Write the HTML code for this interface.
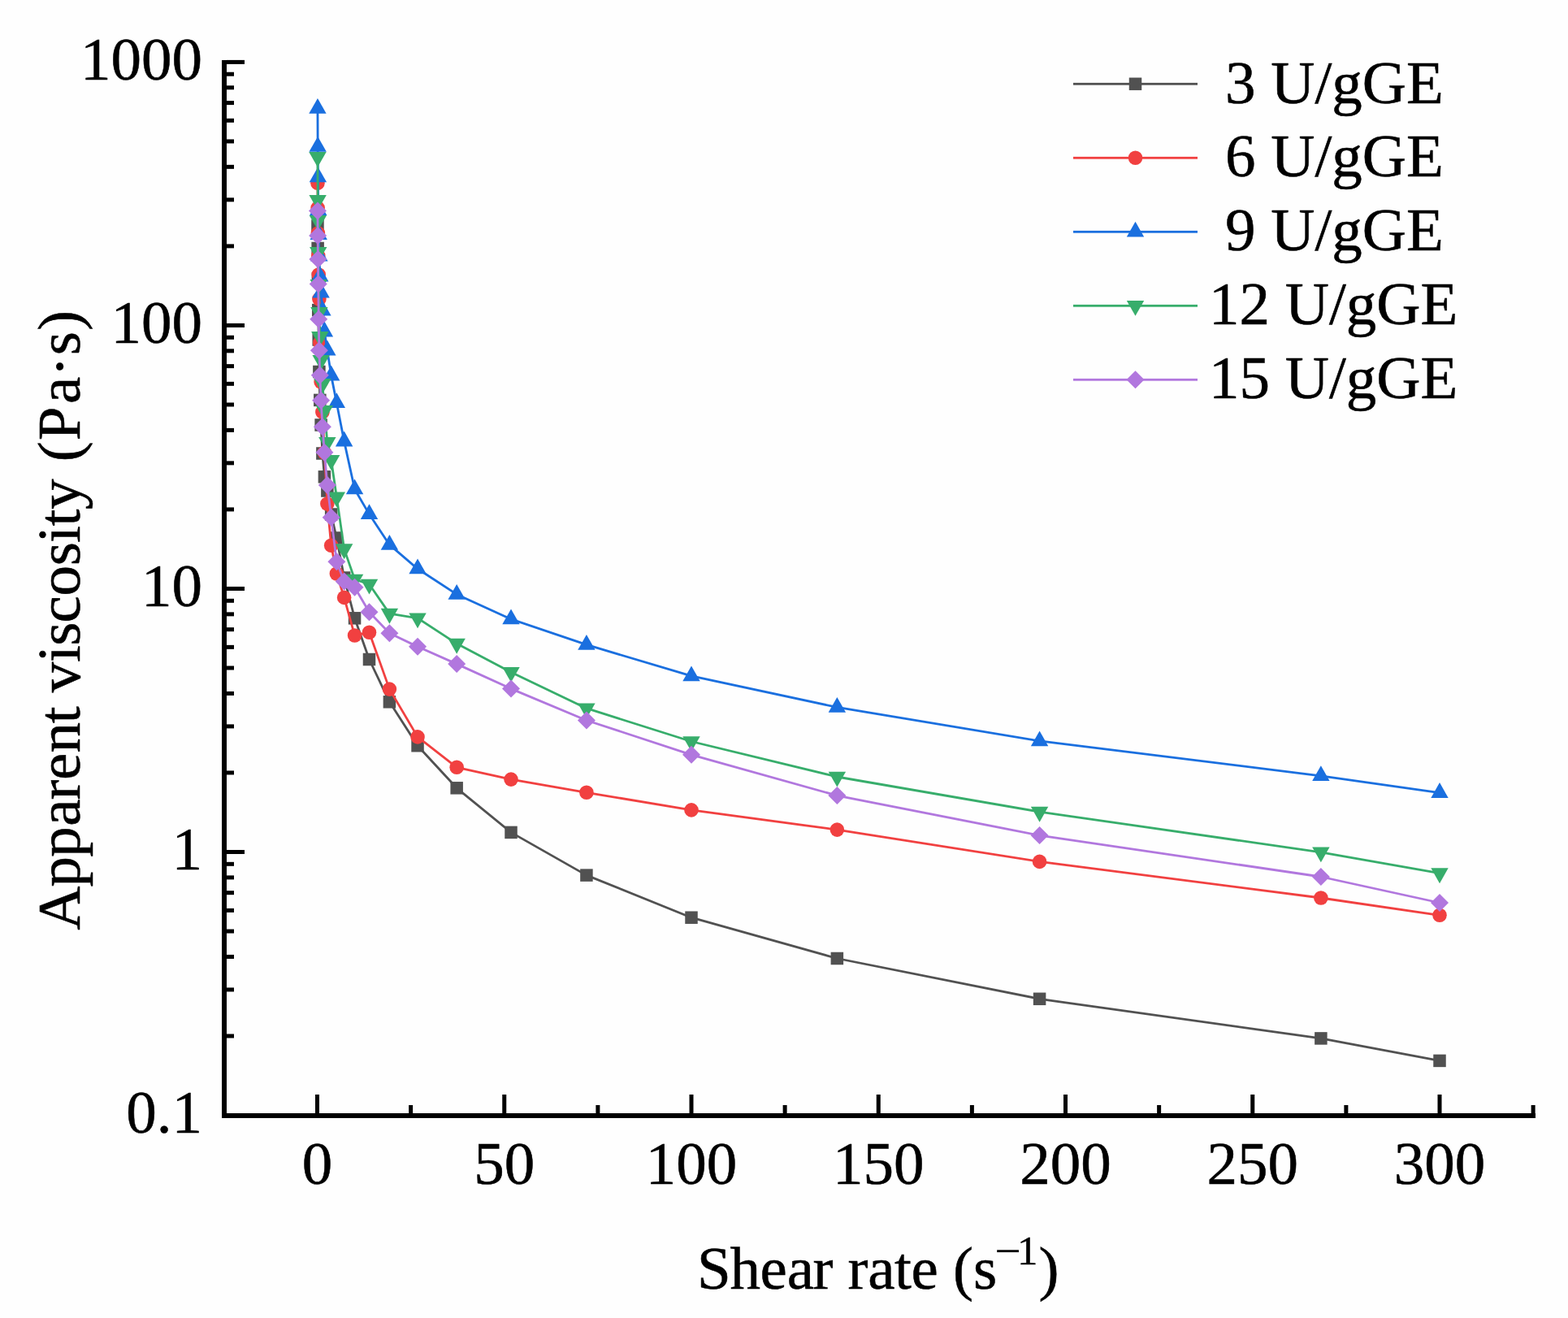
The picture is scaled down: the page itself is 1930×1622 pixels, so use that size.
<!DOCTYPE html>
<html><head><meta charset="utf-8"><title>Apparent viscosity vs shear rate</title>
<style>
html,body{margin:0;padding:0;background:#fff;}
svg{display:block;}
text{font-family:"Liberation Serif","Times New Roman",serif;fill:#000;stroke:#000;stroke-width:0.55px;}
</style></head><body>
<svg width="1930" height="1622" viewBox="0 0 1930 1622">
<rect width="1930" height="1622" fill="#fefefe"/>

<path d="M390.96 278.00L391.14 305.50L391.39 343.00L391.74 381.60L392.22 418.00L392.89 457.50L393.81 492.40L395.11 523.00L396.90 558.00L399.39 586.80L402.85 604.00L407.67 633.00L414.35 662.00L423.64 711.00L436.55 760.80L454.49 811.50L479.41 863.80L514.04 917.70L562.16 969.80L629.01 1024.40L721.92 1077.10L851.00 1129.20L1030.36 1179.50L1279.59 1229.30L1625.88 1277.90L1772.00 1305.40" fill="none" stroke="#515151" stroke-width="2.8" stroke-linejoin="round"/>
<g><rect x="383.21" y="270.25" width="15.5" height="15.5" fill="#515151"/><rect x="383.39" y="297.75" width="15.5" height="15.5" fill="#515151"/><rect x="383.64" y="335.25" width="15.5" height="15.5" fill="#515151"/><rect x="383.99" y="373.85" width="15.5" height="15.5" fill="#515151"/><rect x="384.47" y="410.25" width="15.5" height="15.5" fill="#515151"/><rect x="385.14" y="449.75" width="15.5" height="15.5" fill="#515151"/><rect x="386.06" y="484.65" width="15.5" height="15.5" fill="#515151"/><rect x="387.36" y="515.25" width="15.5" height="15.5" fill="#515151"/><rect x="389.15" y="550.25" width="15.5" height="15.5" fill="#515151"/><rect x="391.64" y="579.05" width="15.5" height="15.5" fill="#515151"/><rect x="395.10" y="596.25" width="15.5" height="15.5" fill="#515151"/><rect x="399.92" y="625.25" width="15.5" height="15.5" fill="#515151"/><rect x="406.60" y="654.25" width="15.5" height="15.5" fill="#515151"/><rect x="415.89" y="703.25" width="15.5" height="15.5" fill="#515151"/><rect x="428.80" y="753.05" width="15.5" height="15.5" fill="#515151"/><rect x="446.74" y="803.75" width="15.5" height="15.5" fill="#515151"/><rect x="471.66" y="856.05" width="15.5" height="15.5" fill="#515151"/><rect x="506.29" y="909.95" width="15.5" height="15.5" fill="#515151"/><rect x="554.41" y="962.05" width="15.5" height="15.5" fill="#515151"/><rect x="621.26" y="1016.65" width="15.5" height="15.5" fill="#515151"/><rect x="714.17" y="1069.35" width="15.5" height="15.5" fill="#515151"/><rect x="843.25" y="1121.45" width="15.5" height="15.5" fill="#515151"/><rect x="1022.61" y="1171.75" width="15.5" height="15.5" fill="#515151"/><rect x="1271.84" y="1221.55" width="15.5" height="15.5" fill="#515151"/><rect x="1618.13" y="1270.15" width="15.5" height="15.5" fill="#515151"/><rect x="1764.25" y="1297.65" width="15.5" height="15.5" fill="#515151"/></g>
<path d="M390.96 225.20L391.14 256.00L391.39 287.00L391.74 315.00L392.22 338.00L392.89 368.00L393.81 422.00L395.11 470.00L396.90 507.00L399.39 557.00L402.85 620.00L407.67 671.30L414.35 706.00L423.64 735.40L436.55 782.00L454.49 778.20L479.41 848.10L514.04 906.90L562.16 944.30L629.01 959.10L721.92 975.30L851.00 996.90L1030.36 1021.10L1279.59 1060.40L1625.88 1105.00L1772.00 1126.30" fill="none" stroke="#F14040" stroke-width="2.8" stroke-linejoin="round"/>
<g><circle cx="390.96" cy="225.20" r="8.8" fill="#F14040"/><circle cx="391.14" cy="256.00" r="8.8" fill="#F14040"/><circle cx="391.39" cy="287.00" r="8.8" fill="#F14040"/><circle cx="391.74" cy="315.00" r="8.8" fill="#F14040"/><circle cx="392.22" cy="338.00" r="8.8" fill="#F14040"/><circle cx="392.89" cy="368.00" r="8.8" fill="#F14040"/><circle cx="393.81" cy="422.00" r="8.8" fill="#F14040"/><circle cx="395.11" cy="470.00" r="8.8" fill="#F14040"/><circle cx="396.90" cy="507.00" r="8.8" fill="#F14040"/><circle cx="399.39" cy="557.00" r="8.8" fill="#F14040"/><circle cx="402.85" cy="620.00" r="8.8" fill="#F14040"/><circle cx="407.67" cy="671.30" r="8.8" fill="#F14040"/><circle cx="414.35" cy="706.00" r="8.8" fill="#F14040"/><circle cx="423.64" cy="735.40" r="8.8" fill="#F14040"/><circle cx="436.55" cy="782.00" r="8.8" fill="#F14040"/><circle cx="454.49" cy="778.20" r="8.8" fill="#F14040"/><circle cx="479.41" cy="848.10" r="8.8" fill="#F14040"/><circle cx="514.04" cy="906.90" r="8.8" fill="#F14040"/><circle cx="562.16" cy="944.30" r="8.8" fill="#F14040"/><circle cx="629.01" cy="959.10" r="8.8" fill="#F14040"/><circle cx="721.92" cy="975.30" r="8.8" fill="#F14040"/><circle cx="851.00" cy="996.90" r="8.8" fill="#F14040"/><circle cx="1030.36" cy="1021.10" r="8.8" fill="#F14040"/><circle cx="1279.59" cy="1060.40" r="8.8" fill="#F14040"/><circle cx="1625.88" cy="1105.00" r="8.8" fill="#F14040"/><circle cx="1772.00" cy="1126.30" r="8.8" fill="#F14040"/></g>
<path d="M390.96 133.53L391.14 180.53L391.39 217.93L391.74 258.73L392.22 288.73L392.89 315.13L393.81 340.13L395.11 360.13L396.90 382.13L399.39 408.13L402.85 431.13L407.67 462.13L414.35 495.83L423.64 543.13L436.55 601.93L454.49 632.83L479.41 670.43L514.04 700.03L562.16 731.43L629.01 761.93L721.92 793.43L851.00 831.93L1030.36 870.43L1279.59 911.93L1625.88 954.83L1772.00 975.63" fill="none" stroke="#1A6FDF" stroke-width="2.8" stroke-linejoin="round"/>
<g><path d="M390.96 121.00L401.66 139.80L380.26 139.80Z" fill="#1A6FDF"/><path d="M391.14 168.00L401.84 186.80L380.44 186.80Z" fill="#1A6FDF"/><path d="M391.39 205.40L402.09 224.20L380.69 224.20Z" fill="#1A6FDF"/><path d="M391.74 246.20L402.44 265.00L381.04 265.00Z" fill="#1A6FDF"/><path d="M392.22 276.20L402.92 295.00L381.52 295.00Z" fill="#1A6FDF"/><path d="M392.89 302.60L403.59 321.40L382.19 321.40Z" fill="#1A6FDF"/><path d="M393.81 327.60L404.51 346.40L383.11 346.40Z" fill="#1A6FDF"/><path d="M395.11 347.60L405.81 366.40L384.41 366.40Z" fill="#1A6FDF"/><path d="M396.90 369.60L407.60 388.40L386.20 388.40Z" fill="#1A6FDF"/><path d="M399.39 395.60L410.09 414.40L388.69 414.40Z" fill="#1A6FDF"/><path d="M402.85 418.60L413.55 437.40L392.15 437.40Z" fill="#1A6FDF"/><path d="M407.67 449.60L418.37 468.40L396.97 468.40Z" fill="#1A6FDF"/><path d="M414.35 483.30L425.05 502.10L403.65 502.10Z" fill="#1A6FDF"/><path d="M423.64 530.60L434.34 549.40L412.94 549.40Z" fill="#1A6FDF"/><path d="M436.55 589.40L447.25 608.20L425.85 608.20Z" fill="#1A6FDF"/><path d="M454.49 620.30L465.19 639.10L443.79 639.10Z" fill="#1A6FDF"/><path d="M479.41 657.90L490.11 676.70L468.71 676.70Z" fill="#1A6FDF"/><path d="M514.04 687.50L524.74 706.30L503.34 706.30Z" fill="#1A6FDF"/><path d="M562.16 718.90L572.86 737.70L551.46 737.70Z" fill="#1A6FDF"/><path d="M629.01 749.40L639.71 768.20L618.31 768.20Z" fill="#1A6FDF"/><path d="M721.92 780.90L732.62 799.70L711.22 799.70Z" fill="#1A6FDF"/><path d="M851.00 819.40L861.70 838.20L840.30 838.20Z" fill="#1A6FDF"/><path d="M1030.36 857.90L1041.06 876.70L1019.66 876.70Z" fill="#1A6FDF"/><path d="M1279.59 899.40L1290.29 918.20L1268.89 918.20Z" fill="#1A6FDF"/><path d="M1625.88 942.30L1636.58 961.10L1615.18 961.10Z" fill="#1A6FDF"/><path d="M1772.00 963.10L1782.70 981.90L1761.30 981.90Z" fill="#1A6FDF"/></g>
<path d="M390.96 193.20L391.14 246.20L391.39 271.20L391.74 310.20L392.22 350.20L392.89 384.20L393.81 414.20L395.11 443.20L396.90 472.20L399.39 505.20L402.85 544.20L407.67 566.20L414.35 611.80L423.64 675.60L436.55 713.00L454.49 719.00L479.41 755.10L514.04 760.70L562.16 792.10L629.01 827.20L721.92 871.70L851.00 912.50L1030.36 956.00L1279.59 999.10L1625.88 1048.80L1772.00 1074.60" fill="none" stroke="#37AD6B" stroke-width="2.8" stroke-linejoin="round"/>
<g><path d="M390.96 205.73L401.66 186.93L380.26 186.93Z" fill="#37AD6B"/><path d="M391.14 258.73L401.84 239.93L380.44 239.93Z" fill="#37AD6B"/><path d="M391.39 283.73L402.09 264.93L380.69 264.93Z" fill="#37AD6B"/><path d="M391.74 322.73L402.44 303.93L381.04 303.93Z" fill="#37AD6B"/><path d="M392.22 362.73L402.92 343.93L381.52 343.93Z" fill="#37AD6B"/><path d="M392.89 396.73L403.59 377.93L382.19 377.93Z" fill="#37AD6B"/><path d="M393.81 426.73L404.51 407.93L383.11 407.93Z" fill="#37AD6B"/><path d="M395.11 455.73L405.81 436.93L384.41 436.93Z" fill="#37AD6B"/><path d="M396.90 484.73L407.60 465.93L386.20 465.93Z" fill="#37AD6B"/><path d="M399.39 517.73L410.09 498.93L388.69 498.93Z" fill="#37AD6B"/><path d="M402.85 556.73L413.55 537.93L392.15 537.93Z" fill="#37AD6B"/><path d="M407.67 578.73L418.37 559.93L396.97 559.93Z" fill="#37AD6B"/><path d="M414.35 624.33L425.05 605.53L403.65 605.53Z" fill="#37AD6B"/><path d="M423.64 688.13L434.34 669.33L412.94 669.33Z" fill="#37AD6B"/><path d="M436.55 725.53L447.25 706.73L425.85 706.73Z" fill="#37AD6B"/><path d="M454.49 731.53L465.19 712.73L443.79 712.73Z" fill="#37AD6B"/><path d="M479.41 767.63L490.11 748.83L468.71 748.83Z" fill="#37AD6B"/><path d="M514.04 773.23L524.74 754.43L503.34 754.43Z" fill="#37AD6B"/><path d="M562.16 804.63L572.86 785.83L551.46 785.83Z" fill="#37AD6B"/><path d="M629.01 839.73L639.71 820.93L618.31 820.93Z" fill="#37AD6B"/><path d="M721.92 884.23L732.62 865.43L711.22 865.43Z" fill="#37AD6B"/><path d="M851.00 925.03L861.70 906.23L840.30 906.23Z" fill="#37AD6B"/><path d="M1030.36 968.53L1041.06 949.73L1019.66 949.73Z" fill="#37AD6B"/><path d="M1279.59 1011.63L1290.29 992.83L1268.89 992.83Z" fill="#37AD6B"/><path d="M1625.88 1061.33L1636.58 1042.53L1615.18 1042.53Z" fill="#37AD6B"/><path d="M1772.00 1087.13L1782.70 1068.33L1761.30 1068.33Z" fill="#37AD6B"/></g>
<path d="M390.96 259.40L391.14 290.00L391.39 319.00L391.74 349.40L392.22 392.70L392.89 431.30L393.81 461.70L395.11 492.80L396.90 525.20L399.39 556.70L402.85 597.00L407.67 636.80L414.35 691.30L423.64 715.40L436.55 722.70L454.49 753.30L479.41 779.20L514.04 795.80L562.16 817.10L629.01 847.60L721.92 886.50L851.00 928.80L1030.36 979.10L1279.59 1028.10L1625.88 1079.00L1772.00 1111.00" fill="none" stroke="#B177DE" stroke-width="2.8" stroke-linejoin="round"/>
<g><path d="M390.96 248.40L401.96 259.40L390.96 270.40L379.96 259.40Z" fill="#B177DE"/><path d="M391.14 279.00L402.14 290.00L391.14 301.00L380.14 290.00Z" fill="#B177DE"/><path d="M391.39 308.00L402.39 319.00L391.39 330.00L380.39 319.00Z" fill="#B177DE"/><path d="M391.74 338.40L402.74 349.40L391.74 360.40L380.74 349.40Z" fill="#B177DE"/><path d="M392.22 381.70L403.22 392.70L392.22 403.70L381.22 392.70Z" fill="#B177DE"/><path d="M392.89 420.30L403.89 431.30L392.89 442.30L381.89 431.30Z" fill="#B177DE"/><path d="M393.81 450.70L404.81 461.70L393.81 472.70L382.81 461.70Z" fill="#B177DE"/><path d="M395.11 481.80L406.11 492.80L395.11 503.80L384.11 492.80Z" fill="#B177DE"/><path d="M396.90 514.20L407.90 525.20L396.90 536.20L385.90 525.20Z" fill="#B177DE"/><path d="M399.39 545.70L410.39 556.70L399.39 567.70L388.39 556.70Z" fill="#B177DE"/><path d="M402.85 586.00L413.85 597.00L402.85 608.00L391.85 597.00Z" fill="#B177DE"/><path d="M407.67 625.80L418.67 636.80L407.67 647.80L396.67 636.80Z" fill="#B177DE"/><path d="M414.35 680.30L425.35 691.30L414.35 702.30L403.35 691.30Z" fill="#B177DE"/><path d="M423.64 704.40L434.64 715.40L423.64 726.40L412.64 715.40Z" fill="#B177DE"/><path d="M436.55 711.70L447.55 722.70L436.55 733.70L425.55 722.70Z" fill="#B177DE"/><path d="M454.49 742.30L465.49 753.30L454.49 764.30L443.49 753.30Z" fill="#B177DE"/><path d="M479.41 768.20L490.41 779.20L479.41 790.20L468.41 779.20Z" fill="#B177DE"/><path d="M514.04 784.80L525.04 795.80L514.04 806.80L503.04 795.80Z" fill="#B177DE"/><path d="M562.16 806.10L573.16 817.10L562.16 828.10L551.16 817.10Z" fill="#B177DE"/><path d="M629.01 836.60L640.01 847.60L629.01 858.60L618.01 847.60Z" fill="#B177DE"/><path d="M721.92 875.50L732.92 886.50L721.92 897.50L710.92 886.50Z" fill="#B177DE"/><path d="M851.00 917.80L862.00 928.80L851.00 939.80L840.00 928.80Z" fill="#B177DE"/><path d="M1030.36 968.10L1041.36 979.10L1030.36 990.10L1019.36 979.10Z" fill="#B177DE"/><path d="M1279.59 1017.10L1290.59 1028.10L1279.59 1039.10L1268.59 1028.10Z" fill="#B177DE"/><path d="M1625.88 1068.00L1636.88 1079.00L1625.88 1090.00L1614.88 1079.00Z" fill="#B177DE"/><path d="M1772.00 1100.00L1783.00 1111.00L1772.00 1122.00L1761.00 1111.00Z" fill="#B177DE"/></g>
<rect x="273" y="74" width="6" height="1302" fill="#000"/>
<rect x="273" y="1370" width="1617" height="6" fill="#000"/>
<rect x="279" y="1272.48" width="9" height="5" fill="#000"/>
<rect x="279" y="1215.42" width="9" height="5" fill="#000"/>
<rect x="279" y="1174.93" width="9" height="5" fill="#000"/>
<rect x="279" y="1143.53" width="9" height="5" fill="#000"/>
<rect x="279" y="1117.88" width="9" height="5" fill="#000"/>
<rect x="279" y="1096.18" width="9" height="5" fill="#000"/>
<rect x="279" y="1077.39" width="9" height="5" fill="#000"/>
<rect x="279" y="1060.82" width="9" height="5" fill="#000"/>
<rect x="279" y="1045.99" width="22" height="5" fill="#000"/>
<rect x="279" y="948.45" width="9" height="5" fill="#000"/>
<rect x="279" y="891.39" width="9" height="5" fill="#000"/>
<rect x="279" y="850.90" width="9" height="5" fill="#000"/>
<rect x="279" y="819.50" width="9" height="5" fill="#000"/>
<rect x="279" y="793.85" width="9" height="5" fill="#000"/>
<rect x="279" y="772.15" width="9" height="5" fill="#000"/>
<rect x="279" y="753.36" width="9" height="5" fill="#000"/>
<rect x="279" y="736.79" width="9" height="5" fill="#000"/>
<rect x="279" y="721.96" width="22" height="5" fill="#000"/>
<rect x="279" y="624.42" width="9" height="5" fill="#000"/>
<rect x="279" y="567.36" width="9" height="5" fill="#000"/>
<rect x="279" y="526.87" width="9" height="5" fill="#000"/>
<rect x="279" y="495.47" width="9" height="5" fill="#000"/>
<rect x="279" y="469.82" width="9" height="5" fill="#000"/>
<rect x="279" y="448.12" width="9" height="5" fill="#000"/>
<rect x="279" y="429.33" width="9" height="5" fill="#000"/>
<rect x="279" y="412.76" width="9" height="5" fill="#000"/>
<rect x="279" y="397.93" width="22" height="5" fill="#000"/>
<rect x="279" y="300.39" width="9" height="5" fill="#000"/>
<rect x="279" y="243.33" width="9" height="5" fill="#000"/>
<rect x="279" y="202.84" width="9" height="5" fill="#000"/>
<rect x="279" y="171.44" width="9" height="5" fill="#000"/>
<rect x="279" y="145.79" width="9" height="5" fill="#000"/>
<rect x="279" y="124.09" width="9" height="5" fill="#000"/>
<rect x="279" y="105.30" width="9" height="5" fill="#000"/>
<rect x="279" y="88.73" width="9" height="5" fill="#000"/>
<rect x="279" y="73.90" width="22" height="5" fill="#000"/>
<rect x="388.00" y="1347" width="5" height="23" fill="#000"/>
<rect x="503.12" y="1360" width="5" height="10" fill="#000"/>
<rect x="618.25" y="1347" width="5" height="23" fill="#000"/>
<rect x="733.38" y="1360" width="5" height="10" fill="#000"/>
<rect x="848.50" y="1347" width="5" height="23" fill="#000"/>
<rect x="963.62" y="1360" width="5" height="10" fill="#000"/>
<rect x="1078.75" y="1347" width="5" height="23" fill="#000"/>
<rect x="1193.88" y="1360" width="5" height="10" fill="#000"/>
<rect x="1309.00" y="1347" width="5" height="23" fill="#000"/>
<rect x="1424.12" y="1360" width="5" height="10" fill="#000"/>
<rect x="1539.25" y="1347" width="5" height="23" fill="#000"/>
<rect x="1654.38" y="1360" width="5" height="10" fill="#000"/>
<rect x="1769.50" y="1347" width="5" height="23" fill="#000"/>
<rect x="1884.63" y="1360" width="5" height="10" fill="#000"/>
<text x="249" y="97.90" font-size="75" text-anchor="end">1000</text>
<text x="249" y="421.93" font-size="75" text-anchor="end">100</text>
<text x="249" y="745.96" font-size="75" text-anchor="end">10</text>
<text x="249" y="1069.99" font-size="75" text-anchor="end">1</text>
<text x="249" y="1394.02" font-size="75" text-anchor="end">0.1</text>
<text x="390.50" y="1457" font-size="75" text-anchor="middle">0</text>
<text x="620.75" y="1457" font-size="75" text-anchor="middle">50</text>
<text x="851.00" y="1457" font-size="75" text-anchor="middle">100</text>
<text x="1081.25" y="1457" font-size="75" text-anchor="middle">150</text>
<text x="1311.50" y="1457" font-size="75" text-anchor="middle">200</text>
<text x="1541.75" y="1457" font-size="75" text-anchor="middle">250</text>
<text x="1772.00" y="1457" font-size="75" text-anchor="middle">300</text>
<text y="1586" font-size="75"><tspan x="857.9 898.5 935.5 968.8 1000.6 1025.6 1043.6 1068.3 1100.9 1121.6 1154.9 1173.0 1197.9">Shear rate (s</tspan><tspan font-size="57.6" x="1224.3" y="1559" style="stroke-width:0">−</tspan><tspan font-size="50" x="1252.3" y="1555.8">1</tspan><tspan x="1278.45" y="1586">)</tspan></text>
<text transform="translate(98 1143.7) rotate(-90)" x="-1.0 52.2 89.0 127.0 159.3 183.8 217.1 253.4 274.2 291.5 328.6 349.0 377.2 410.2 447.4 475.6 496.2 516.6 554.1 575.5 601.5 646.7 680.1 706.4 736.7" y="0" font-size="75">Apparent viscosity (Pa·s)</text>
<rect x="1321" y="101.90" width="153" height="2.8" fill="#515151"/>
<rect x="1389.75" y="95.55" width="15.5" height="15.5" fill="#515151"/>
<text x="1508" y="126.50" font-size="75">3 U/gGE</text>
<rect x="1321" y="192.90" width="153" height="2.8" fill="#F14040"/>
<circle cx="1397.50" cy="194.30" r="8.8" fill="#F14040"/>
<text x="1508" y="217.40" font-size="75">6 U/gGE</text>
<rect x="1321" y="283.90" width="153" height="2.8" fill="#1A6FDF"/>
<path d="M1397.50 272.77L1408.20 291.57L1386.80 291.57Z" fill="#1A6FDF"/>
<text x="1508" y="308.30" font-size="75">9 U/gGE</text>
<rect x="1321" y="374.90" width="153" height="2.8" fill="#37AD6B"/>
<path d="M1397.50 388.83L1408.20 370.03L1386.80 370.03Z" fill="#37AD6B"/>
<text x="1488" y="399.20" font-size="75">12 U/gGE</text>
<rect x="1321" y="465.90" width="153" height="2.8" fill="#B177DE"/>
<path d="M1397.50 456.30L1408.50 467.30L1397.50 478.30L1386.50 467.30Z" fill="#B177DE"/>
<text x="1488" y="490.10" font-size="75">15 U/gGE</text>
</svg>
</body></html>
